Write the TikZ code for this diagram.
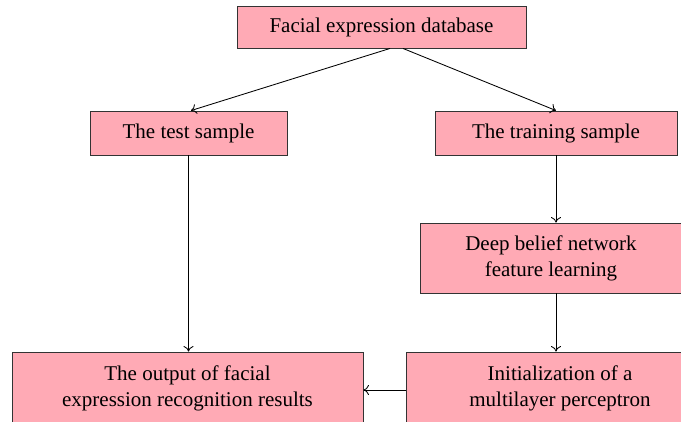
\documentclass[tikz,border=0pt]{standalone}
\usepackage{fontspec}
\setmainfont{Liberation Serif}
\usepackage{tikz}
\usetikzlibrary{arrows.meta,positioning,calc}
\usepackage{xcolor}
\definecolor{fePink}{HTML}{FFAAB5}
\definecolor{feBorder}{HTML}{333333}
\tikzset{
    stagebox/.style={rectangle,draw=feBorder,fill=fePink,line width=0.9pt,align=center,inner sep=2pt,font=\fontsize{21}{26}\selectfont},
    flow/.style={-{To[length=5.5pt,width=10pt]},line width=0.85pt,black}
}

\begin{document}
\begin{tikzpicture}[x=1pt,y=-1pt]
    \useasboundingbox (0,0) rectangle (681,421);

    % Database and the two samples
    \node[stagebox,minimum width=289,minimum height=42] (db) at (381.5,27) {Facial expression database};
    \node[stagebox,minimum width=197,minimum height=44] (test) at (188.5,133) {The test sample};
    \node[stagebox,minimum width=242,minimum height=44] (train) at (556,133) {The training sample};

    % Learning chain
    \node[stagebox,minimum width=262,minimum height=70] (dbn) at (551,258) {Deep belief network\\feature learning};
    \node[stagebox,minimum width=308,minimum height=72] (mlp) at (560,388) {Initialization of a\\multilayer perceptron};
    \node[stagebox,minimum width=351,minimum height=72] (out) at (187.5,388) {The output of facial\\expression recognition results};

    % Connectors
    \draw[flow] ($(db.south)+(8.5,0)$) -- ($(test.north)+(2.5,0)$);
    \draw[flow] ($(db.south)+(21.5,0)$) -- (train.north);
    \draw[flow] (test.south) -- (test.south |- out.north);
    \draw[flow] (train.south) -- (train.south |- dbn.north);
    \draw[flow] (dbn.south -| train.south) -- (train.south |- mlp.north);
    \draw[flow] (mlp.west |- 0,390) -- (out.east |- 0,390);
\end{tikzpicture}
\end{document}
